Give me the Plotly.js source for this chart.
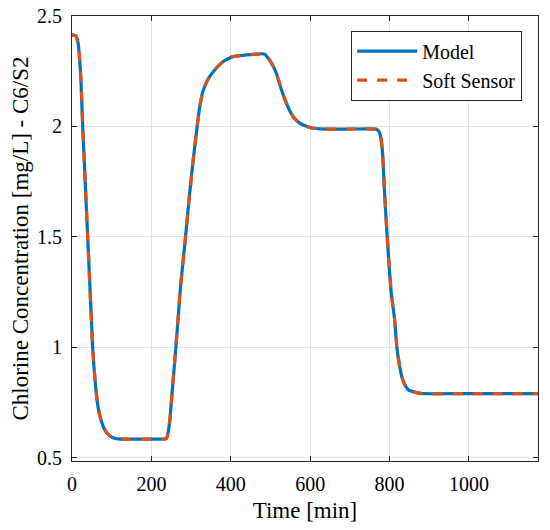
<!DOCTYPE html>
<html>
<head>
<meta charset="utf-8">
<script src="https://cdn.plot.ly/plotly-3.0.1.min.js"></script>
<style>
html,body{margin:0;padding:0;background:#fff;}
#chart{width:550px;height:530px;}
</style>
</head>
<body>
<div id="chart"></div>
<script>
// Time axis (minutes)
const timeMin = [0,6,10,13,16,19,22,24.5,27,31,35,39,43,47,50,52,55,58.7,62,65.4,70,75.5,81,88,96,104.8,115,134,200,236.5,239,242,246.5,253.3,261.6,273.4,286,295,303,310,316,322,330,343,360,380,405,448,478,486,493,502.3,514.6,527.5,540,556.8,573.5,598.7,623.9,700,764.8,770.6,776,779,783,787.4,794.1,804.2,812.6,818.4,825.2,831.4,840,848.2,865,881.8,990.8,1174];
// Chlorine concentration [mg/L] - Model
const modelConc = [2.413,2.413,2.41,2.395,2.37,2.31,2.23,2.12,2.0,1.84,1.68,1.52,1.36,1.2,1.08,1.0,0.92,0.838,0.78,0.732,0.69,0.657,0.632,0.612,0.598,0.589,0.585,0.584,0.584,0.585,0.59,0.613,0.669,0.82,0.997,1.274,1.5,1.67,1.81,1.92,2.01,2.09,2.16,2.215,2.257,2.293,2.316,2.325,2.329,2.326,2.312,2.288,2.242,2.167,2.106,2.045,2.015,1.995,1.989,1.988,1.988,1.983,1.965,1.94,1.864,1.699,1.5,1.246,1.129,1.0,0.916,0.863,0.825,0.806,0.796,0.79,0.79,0.79];
// Chlorine concentration [mg/L] - Soft Sensor
const softSensorConc = [2.413,2.413,2.41,2.395,2.37,2.31,2.23,2.12,2.0,1.84,1.68,1.52,1.36,1.2,1.08,1.0,0.92,0.838,0.78,0.732,0.69,0.657,0.632,0.612,0.598,0.589,0.585,0.584,0.584,0.585,0.59,0.613,0.669,0.82,0.997,1.274,1.5,1.67,1.81,1.92,2.01,2.09,2.16,2.215,2.257,2.293,2.316,2.325,2.329,2.326,2.312,2.288,2.242,2.167,2.106,2.045,2.015,1.995,1.989,1.988,1.988,1.983,1.965,1.94,1.864,1.699,1.5,1.246,1.129,1.0,0.916,0.863,0.825,0.806,0.796,0.79,0.79,0.79];

const xTicks = [0,200,400,600,800,1000];
const xTickText = ['0','200','400','600','800','1000'];
const yTicks = [0.5,1,1.5,2,2.5];
const yTickText = ['0.5','1','1.5','2','2.5'];

const serif = 'Times New Roman';
const axisColor = '#262626';

const traces = [
  {x: timeMin, y: modelConc, type: 'scatter', mode: 'lines', name: 'Model',
   line: {color: '#0072BD', width: 3.2, shape: 'spline', smoothing: 0.4}},
  {x: timeMin, y: softSensorConc, type: 'scatter', mode: 'lines', name: 'Soft Sensor',
   line: {color: '#D95319', width: 3.2, dash: '10px,10px', shape: 'spline', smoothing: 0.4}}
];

const layout = {
  width: 550, height: 530,
  margin: {l: 72, r: 12, t: 16, b: 69},
  paper_bgcolor: '#fff', plot_bgcolor: '#fff',
  font: {family: serif, size: 20, color: '#000'},
  showlegend: true,
  legend: {x: 0.966, y: 0.967, xanchor: 'right', yanchor: 'top',
    bgcolor: '#fff', bordercolor: axisColor, borderwidth: 1,
    font: {family: serif, size: 20, color: '#000'}, itemwidth: 60,
    tracegroupgap: 0},
  xaxis: {
    range: [0, 1174], tickmode: 'array', tickvals: xTicks, ticktext: xTickText,
    showline: true, linecolor: axisColor, linewidth: 1, mirror: 'ticks',
    ticks: 'inside', ticklen: 5, tickcolor: axisColor,
    showgrid: true, gridcolor: '#e3e3e3', gridwidth: 1, zeroline: false,
    tickfont: {family: serif, size: 20, color: '#000'},
    ticklabelstandoff: 5,
    title: {text: 'Time [min]', font: {family: serif, size: 23, color: '#000'}, standoff: 7}
  },
  yaxis: {
    range: [0.485, 2.5], tickmode: 'array', tickvals: yTicks, ticktext: yTickText,
    showline: true, linecolor: axisColor, linewidth: 1, mirror: 'ticks',
    ticks: 'inside', ticklen: 5, tickcolor: axisColor,
    showgrid: true, gridcolor: '#e3e3e3', gridwidth: 1, zeroline: false,
    tickfont: {family: serif, size: 20, color: '#000'},
    ticklabelstandoff: 5,
    title: {text: 'Chlorine Concentration [mg/L] - C6/S2', font: {family: serif, size: 23, color: '#000'}, standoff: 1}
  }
};

Plotly.newPlot('chart', traces, layout, {displayModeBar: false, staticPlot: true});
</script>
</body>
</html>
